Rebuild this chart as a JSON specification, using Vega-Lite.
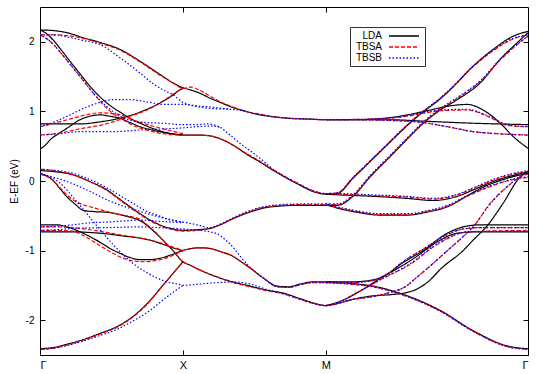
{
"$schema":"https://vega.github.io/schema/vega-lite/v6.json",
"width":488,"height":348,
"autosize":{"type":"none"},
"padding":{"left":40,"top":7,"right":17,"bottom":19},
"background":"white",
"config":{"view":{"stroke":"black","strokeWidth":1},"font":"Liberation Sans",
"axis":{"grid":false,"domain":false,"tickColor":"black","tickSize":5,"tickWidth":1,"offset":-5,"labelFont":"Liberation Sans","labelFontSize":10,"labelColor":"black","titleFont":"Liberation Sans","titleFontSize":10,"titleFontWeight":"normal","titleColor":"black"}},
"data":{"values":[
{"s":"LDA","b":"L1","x":0,"y":2.17},{"s":"LDA","b":"L1","x":0.1,"y":2.16},{"s":"LDA","b":"L1","x":0.19,"y":2.13},{"s":"LDA","b":"L1","x":0.3,"y":2.06},{"s":"LDA","b":"L1","x":0.42,"y":1.99},{"s":"LDA","b":"L1","x":0.56,"y":1.89},{"s":"LDA","b":"L1","x":0.7,"y":1.72},{"s":"LDA","b":"L1","x":0.84,"y":1.53},{"s":"LDA","b":"L1","x":0.93,"y":1.41},{"s":"LDA","b":"L1","x":1,"y":1.34},{"s":"LDA","b":"L1","x":1.05,"y":1.31},{"s":"LDA","b":"L1","x":1.12,"y":1.26},{"s":"LDA","b":"L1","x":1.19,"y":1.19},{"s":"LDA","b":"L1","x":1.26,"y":1.13},{"s":"LDA","b":"L1","x":1.33,"y":1.07},{"s":"LDA","b":"L1","x":1.44,"y":1.0},{"s":"LDA","b":"L1","x":1.54,"y":0.95},{"s":"LDA","b":"L1","x":1.65,"y":0.92},{"s":"LDA","b":"L1","x":1.75,"y":0.9},{"s":"LDA","b":"L1","x":1.88,"y":0.89},{"s":"LDA","b":"L1","x":2,"y":0.88},{"s":"LDA","b":"L1","x":2.2,"y":0.88},{"s":"LDA","b":"L1","x":2.45,"y":0.88},{"s":"LDA","b":"L1","x":2.68,"y":0.86},{"s":"LDA","b":"L1","x":3.03,"y":0.83},{"s":"LDA","b":"L1","x":3.414,"y":0.81},
{"s":"LDA","b":"L2","x":0,"y":0.82},{"s":"LDA","b":"L2","x":0.15,"y":0.82},{"s":"LDA","b":"L2","x":0.28,"y":0.82},{"s":"LDA","b":"L2","x":0.42,"y":0.85},{"s":"LDA","b":"L2","x":0.51,"y":0.88},{"s":"LDA","b":"L2","x":0.63,"y":0.94},{"s":"LDA","b":"L2","x":0.7,"y":0.99},{"s":"LDA","b":"L2","x":0.77,"y":1.05},{"s":"LDA","b":"L2","x":0.84,"y":1.12},{"s":"LDA","b":"L2","x":0.92,"y":1.22},{"s":"LDA","b":"L2","x":0.98,"y":1.31},{"s":"LDA","b":"L2","x":1,"y":1.33},
{"s":"LDA","b":"L3","x":0,"y":2.17},{"s":"LDA","b":"L3","x":0.05,"y":2.11},{"s":"LDA","b":"L3","x":0.09,"y":2.03},{"s":"LDA","b":"L3","x":0.15,"y":1.88},{"s":"LDA","b":"L3","x":0.21,"y":1.72},{"s":"LDA","b":"L3","x":0.28,"y":1.54},{"s":"LDA","b":"L3","x":0.35,"y":1.36},{"s":"LDA","b":"L3","x":0.44,"y":1.17},{"s":"LDA","b":"L3","x":0.5,"y":1.07},{"s":"LDA","b":"L3","x":0.56,"y":0.99},{"s":"LDA","b":"L3","x":0.63,"y":0.9},{"s":"LDA","b":"L3","x":0.7,"y":0.83},{"s":"LDA","b":"L3","x":0.77,"y":0.77},{"s":"LDA","b":"L3","x":0.84,"y":0.72},{"s":"LDA","b":"L3","x":0.92,"y":0.68},{"s":"LDA","b":"L3","x":1,"y":0.66},{"s":"LDA","b":"L3","x":1.12,"y":0.66},{"s":"LDA","b":"L3","x":1.21,"y":0.64},{"s":"LDA","b":"L3","x":1.27,"y":0.6},{"s":"LDA","b":"L3","x":1.33,"y":0.54},{"s":"LDA","b":"L3","x":1.45,"y":0.38},{"s":"LDA","b":"L3","x":1.55,"y":0.26},{"s":"LDA","b":"L3","x":1.61,"y":0.18},{"s":"LDA","b":"L3","x":1.7,"y":0.07},{"s":"LDA","b":"L3","x":1.8,"y":-0.04},{"s":"LDA","b":"L3","x":1.91,"y":-0.15},{"s":"LDA","b":"L3","x":2,"y":-0.19},{"s":"LDA","b":"L3","x":2.08,"y":-0.18},{"s":"LDA","b":"L3","x":2.19,"y":0.04},{"s":"LDA","b":"L3","x":2.31,"y":0.28},{"s":"LDA","b":"L3","x":2.43,"y":0.52},{"s":"LDA","b":"L3","x":2.54,"y":0.74},{"s":"LDA","b":"L3","x":2.66,"y":0.96},{"s":"LDA","b":"L3","x":2.8,"y":1.18},{"s":"LDA","b":"L3","x":2.87,"y":1.31},{"s":"LDA","b":"L3","x":3.03,"y":1.65},{"s":"LDA","b":"L3","x":3.17,"y":1.89},{"s":"LDA","b":"L3","x":3.31,"y":2.08},{"s":"LDA","b":"L3","x":3.414,"y":2.15},
{"s":"LDA","b":"L4","x":0,"y":0.46},{"s":"LDA","b":"L4","x":0.04,"y":0.52},{"s":"LDA","b":"L4","x":0.07,"y":0.59},{"s":"LDA","b":"L4","x":0.13,"y":0.68},{"s":"LDA","b":"L4","x":0.19,"y":0.76},{"s":"LDA","b":"L4","x":0.28,"y":0.88},{"s":"LDA","b":"L4","x":0.37,"y":0.94},{"s":"LDA","b":"L4","x":0.42,"y":0.95},{"s":"LDA","b":"L4","x":0.49,"y":0.93},{"s":"LDA","b":"L4","x":0.56,"y":0.9},{"s":"LDA","b":"L4","x":0.63,"y":0.84},{"s":"LDA","b":"L4","x":0.7,"y":0.78},{"s":"LDA","b":"L4","x":0.77,"y":0.74},{"s":"LDA","b":"L4","x":0.86,"y":0.7},{"s":"LDA","b":"L4","x":1,"y":0.66},
{"s":"LDA","b":"L5","x":2,"y":0.88},{"s":"LDA","b":"L5","x":2.2,"y":0.88},{"s":"LDA","b":"L5","x":2.33,"y":0.89},{"s":"LDA","b":"L5","x":2.45,"y":0.91},{"s":"LDA","b":"L5","x":2.57,"y":0.95},{"s":"LDA","b":"L5","x":2.73,"y":1.02},{"s":"LDA","b":"L5","x":2.87,"y":1.08},{"s":"LDA","b":"L5","x":2.99,"y":1.1},{"s":"LDA","b":"L5","x":3.1,"y":1.02},{"s":"LDA","b":"L5","x":3.22,"y":0.83},{"s":"LDA","b":"L5","x":3.31,"y":0.64},{"s":"LDA","b":"L5","x":3.414,"y":0.47},
{"s":"LDA","b":"L6","x":0,"y":0.15},{"s":"LDA","b":"L6","x":0.12,"y":0.13},{"s":"LDA","b":"L6","x":0.23,"y":0.09},{"s":"LDA","b":"L6","x":0.35,"y":-0.01},{"s":"LDA","b":"L6","x":0.47,"y":-0.13},{"s":"LDA","b":"L6","x":0.55,"y":-0.25},{"s":"LDA","b":"L6","x":0.63,"y":-0.37},{"s":"LDA","b":"L6","x":0.7,"y":-0.47},{"s":"LDA","b":"L6","x":0.77,"y":-0.56},{"s":"LDA","b":"L6","x":0.85,"y":-0.64},{"s":"LDA","b":"L6","x":0.93,"y":-0.69},{"s":"LDA","b":"L6","x":1,"y":-0.71},{"s":"LDA","b":"L6","x":1.1,"y":-0.7},{"s":"LDA","b":"L6","x":1.19,"y":-0.68},{"s":"LDA","b":"L6","x":1.26,"y":-0.63},{"s":"LDA","b":"L6","x":1.33,"y":-0.56},{"s":"LDA","b":"L6","x":1.45,"y":-0.46},{"s":"LDA","b":"L6","x":1.56,"y":-0.39},{"s":"LDA","b":"L6","x":1.68,"y":-0.36},{"s":"LDA","b":"L6","x":1.8,"y":-0.35},{"s":"LDA","b":"L6","x":2,"y":-0.35},{"s":"LDA","b":"L6","x":2.1,"y":-0.4},{"s":"LDA","b":"L6","x":2.22,"y":-0.45},{"s":"LDA","b":"L6","x":2.38,"y":-0.49},{"s":"LDA","b":"L6","x":2.57,"y":-0.49},{"s":"LDA","b":"L6","x":2.7,"y":-0.45},{"s":"LDA","b":"L6","x":2.85,"y":-0.37},{"s":"LDA","b":"L6","x":3,"y":-0.2},{"s":"LDA","b":"L6","x":3.08,"y":-0.11},{"s":"LDA","b":"L6","x":3.27,"y":0.04},{"s":"LDA","b":"L6","x":3.414,"y":0.11},
{"s":"LDA","b":"L7","x":2,"y":-0.35},{"s":"LDA","b":"L7","x":2.08,"y":-0.35},{"s":"LDA","b":"L7","x":2.19,"y":-0.22},{"s":"LDA","b":"L7","x":2.31,"y":0.06},{"s":"LDA","b":"L7","x":2.45,"y":0.35},{"s":"LDA","b":"L7","x":2.54,"y":0.54},{"s":"LDA","b":"L7","x":2.71,"y":0.88},{"s":"LDA","b":"L7","x":2.8,"y":1.02},{"s":"LDA","b":"L7","x":2.92,"y":1.17},{"s":"LDA","b":"L7","x":3.08,"y":1.41},{"s":"LDA","b":"L7","x":3.22,"y":1.75},{"s":"LDA","b":"L7","x":3.34,"y":1.99},{"s":"LDA","b":"L7","x":3.414,"y":2.13},
{"s":"LDA","b":"L8","x":2,"y":-0.19},{"s":"LDA","b":"L8","x":2.1,"y":-0.2},{"s":"LDA","b":"L8","x":2.33,"y":-0.22},{"s":"LDA","b":"L8","x":2.57,"y":-0.25},{"s":"LDA","b":"L8","x":2.75,"y":-0.28},{"s":"LDA","b":"L8","x":2.92,"y":-0.22},{"s":"LDA","b":"L8","x":3.04,"y":-0.12},{"s":"LDA","b":"L8","x":3.18,"y":0},{"s":"LDA","b":"L8","x":3.29,"y":0.07},{"s":"LDA","b":"L8","x":3.414,"y":0.13},
{"s":"LDA","b":"L9","x":0,"y":0.11},{"s":"LDA","b":"L9","x":0.05,"y":0.07},{"s":"LDA","b":"L9","x":0.09,"y":0.01},{"s":"LDA","b":"L9","x":0.14,"y":-0.11},{"s":"LDA","b":"L9","x":0.19,"y":-0.23},{"s":"LDA","b":"L9","x":0.25,"y":-0.34},{"s":"LDA","b":"L9","x":0.3,"y":-0.42},{"s":"LDA","b":"L9","x":0.38,"y":-0.44},{"s":"LDA","b":"L9","x":0.47,"y":-0.45},{"s":"LDA","b":"L9","x":0.55,"y":-0.48},{"s":"LDA","b":"L9","x":0.63,"y":-0.52},{"s":"LDA","b":"L9","x":0.7,"y":-0.57},{"s":"LDA","b":"L9","x":0.75,"y":-0.64},{"s":"LDA","b":"L9","x":0.8,"y":-0.73},{"s":"LDA","b":"L9","x":0.86,"y":-0.85},{"s":"LDA","b":"L9","x":0.93,"y":-1.0},{"s":"LDA","b":"L9","x":1,"y":-1.16},{"s":"LDA","b":"L9","x":1.05,"y":-1.21},{"s":"LDA","b":"L9","x":1.12,"y":-1.28},{"s":"LDA","b":"L9","x":1.24,"y":-1.38},{"s":"LDA","b":"L9","x":1.35,"y":-1.45},{"s":"LDA","b":"L9","x":1.47,"y":-1.51},{"s":"LDA","b":"L9","x":1.59,"y":-1.57},{"s":"LDA","b":"L9","x":1.7,"y":-1.61},{"s":"LDA","b":"L9","x":1.82,"y":-1.69},{"s":"LDA","b":"L9","x":1.91,"y":-1.75},{"s":"LDA","b":"L9","x":2,"y":-1.79},{"s":"LDA","b":"L9","x":2.1,"y":-1.75},{"s":"LDA","b":"L9","x":2.17,"y":-1.71},{"s":"LDA","b":"L9","x":2.33,"y":-1.65},{"s":"LDA","b":"L9","x":2.47,"y":-1.63},{"s":"LDA","b":"L9","x":2.57,"y":-1.6},{"s":"LDA","b":"L9","x":2.64,"y":-1.55},{"s":"LDA","b":"L9","x":2.73,"y":-1.42},{"s":"LDA","b":"L9","x":2.8,"y":-1.27},{"s":"LDA","b":"L9","x":2.96,"y":-1.0},{"s":"LDA","b":"L9","x":3.03,"y":-0.85},{"s":"LDA","b":"L9","x":3.13,"y":-0.64},{"s":"LDA","b":"L9","x":3.24,"y":-0.32},{"s":"LDA","b":"L9","x":3.36,"y":0.06},{"s":"LDA","b":"L9","x":3.414,"y":0.14},
{"s":"LDA","b":"L10","x":0,"y":-0.63},{"s":"LDA","b":"L10","x":0.12,"y":-0.63},{"s":"LDA","b":"L10","x":0.19,"y":-0.66},{"s":"LDA","b":"L10","x":0.28,"y":-0.73},{"s":"LDA","b":"L10","x":0.35,"y":-0.8},{"s":"LDA","b":"L10","x":0.42,"y":-0.88},{"s":"LDA","b":"L10","x":0.5,"y":-0.98},{"s":"LDA","b":"L10","x":0.56,"y":-1.04},{"s":"LDA","b":"L10","x":0.63,"y":-1.1},{"s":"LDA","b":"L10","x":0.7,"y":-1.13},{"s":"LDA","b":"L10","x":0.77,"y":-1.13},{"s":"LDA","b":"L10","x":0.84,"y":-1.11},{"s":"LDA","b":"L10","x":0.92,"y":-1.06},{"s":"LDA","b":"L10","x":1,"y":-1.0},{"s":"LDA","b":"L10","x":1.06,"y":-0.97},{"s":"LDA","b":"L10","x":1.12,"y":-0.96},{"s":"LDA","b":"L10","x":1.19,"y":-0.97},{"s":"LDA","b":"L10","x":1.27,"y":-1.02},{"s":"LDA","b":"L10","x":1.34,"y":-1.07},{"s":"LDA","b":"L10","x":1.4,"y":-1.15},{"s":"LDA","b":"L10","x":1.47,"y":-1.25},{"s":"LDA","b":"L10","x":1.56,"y":-1.39},{"s":"LDA","b":"L10","x":1.66,"y":-1.51},{"s":"LDA","b":"L10","x":1.74,"y":-1.52},{"s":"LDA","b":"L10","x":1.82,"y":-1.48},{"s":"LDA","b":"L10","x":1.91,"y":-1.45},{"s":"LDA","b":"L10","x":2,"y":-1.45},{"s":"LDA","b":"L10","x":2.17,"y":-1.45},{"s":"LDA","b":"L10","x":2.33,"y":-1.42},{"s":"LDA","b":"L10","x":2.45,"y":-1.31},{"s":"LDA","b":"L10","x":2.52,"y":-1.2},{"s":"LDA","b":"L10","x":2.68,"y":-1.0},{"s":"LDA","b":"L10","x":2.85,"y":-0.75},{"s":"LDA","b":"L10","x":2.96,"y":-0.66},{"s":"LDA","b":"L10","x":3.08,"y":-0.63},{"s":"LDA","b":"L10","x":3.414,"y":-0.63},
{"s":"LDA","b":"L11","x":0,"y":-0.73},{"s":"LDA","b":"L11","x":0.12,"y":-0.73},{"s":"LDA","b":"L11","x":0.23,"y":-0.73},{"s":"LDA","b":"L11","x":0.35,"y":-0.74},{"s":"LDA","b":"L11","x":0.47,"y":-0.76},{"s":"LDA","b":"L11","x":0.58,"y":-0.79},{"s":"LDA","b":"L11","x":0.7,"y":-0.82},{"s":"LDA","b":"L11","x":0.77,"y":-0.85},{"s":"LDA","b":"L11","x":0.86,"y":-0.91},{"s":"LDA","b":"L11","x":0.93,"y":-0.96},{"s":"LDA","b":"L11","x":1,"y":-1.0},
{"s":"LDA","b":"L12","x":2,"y":-1.79},{"s":"LDA","b":"L12","x":2.1,"y":-1.73},{"s":"LDA","b":"L12","x":2.24,"y":-1.58},{"s":"LDA","b":"L12","x":2.38,"y":-1.4},{"s":"LDA","b":"L12","x":2.61,"y":-1.12},{"s":"LDA","b":"L12","x":2.8,"y":-0.85},{"s":"LDA","b":"L12","x":2.92,"y":-0.75},{"s":"LDA","b":"L12","x":3.08,"y":-0.73},{"s":"LDA","b":"L12","x":3.414,"y":-0.73},
{"s":"LDA","b":"L13","x":0,"y":-2.41},{"s":"LDA","b":"L13","x":0.1,"y":-2.39},{"s":"LDA","b":"L13","x":0.2,"y":-2.34},{"s":"LDA","b":"L13","x":0.3,"y":-2.28},{"s":"LDA","b":"L13","x":0.42,"y":-2.19},{"s":"LDA","b":"L13","x":0.54,"y":-2.09},{"s":"LDA","b":"L13","x":0.66,"y":-1.93},{"s":"LDA","b":"L13","x":0.75,"y":-1.76},{"s":"LDA","b":"L13","x":0.86,"y":-1.5},{"s":"LDA","b":"L13","x":0.93,"y":-1.33},{"s":"LDA","b":"L13","x":1,"y":-1.16},
{"s":"LDA","b":"L14","x":2,"y":-1.45},{"s":"LDA","b":"L14","x":2.1,"y":-1.46},{"s":"LDA","b":"L14","x":2.22,"y":-1.48},{"s":"LDA","b":"L14","x":2.33,"y":-1.51},{"s":"LDA","b":"L14","x":2.45,"y":-1.57},{"s":"LDA","b":"L14","x":2.57,"y":-1.65},{"s":"LDA","b":"L14","x":2.8,"y":-1.86},{"s":"LDA","b":"L14","x":3.03,"y":-2.15},{"s":"LDA","b":"L14","x":3.27,"y":-2.37},{"s":"LDA","b":"L14","x":3.414,"y":-2.41},
{"s":"TBSA","b":"A1","x":0,"y":2.1},{"s":"TBSA","b":"A1","x":0.1,"y":2.1},{"s":"TBSA","b":"A1","x":0.19,"y":2.09},{"s":"TBSA","b":"A1","x":0.3,"y":2.05},{"s":"TBSA","b":"A1","x":0.42,"y":1.98},{"s":"TBSA","b":"A1","x":0.56,"y":1.88},{"s":"TBSA","b":"A1","x":0.7,"y":1.71},{"s":"TBSA","b":"A1","x":0.84,"y":1.52},{"s":"TBSA","b":"A1","x":0.93,"y":1.41},{"s":"TBSA","b":"A1","x":1,"y":1.33},{"s":"TBSA","b":"A1","x":1.05,"y":1.35},{"s":"TBSA","b":"A1","x":1.12,"y":1.3},{"s":"TBSA","b":"A1","x":1.19,"y":1.22},{"s":"TBSA","b":"A1","x":1.26,"y":1.14},{"s":"TBSA","b":"A1","x":1.33,"y":1.08},{"s":"TBSA","b":"A1","x":1.44,"y":1.0},{"s":"TBSA","b":"A1","x":1.54,"y":0.96},{"s":"TBSA","b":"A1","x":1.65,"y":0.92},{"s":"TBSA","b":"A1","x":1.75,"y":0.9},{"s":"TBSA","b":"A1","x":1.88,"y":0.89},{"s":"TBSA","b":"A1","x":2,"y":0.88},{"s":"TBSA","b":"A1","x":2.2,"y":0.88},{"s":"TBSA","b":"A1","x":2.45,"y":0.87},{"s":"TBSA","b":"A1","x":2.68,"y":0.84},{"s":"TBSA","b":"A1","x":2.85,"y":0.78},{"s":"TBSA","b":"A1","x":3.03,"y":0.71},{"s":"TBSA","b":"A1","x":3.2,"y":0.68},{"s":"TBSA","b":"A1","x":3.414,"y":0.66},
{"s":"TBSA","b":"A2","x":0,"y":0.66},{"s":"TBSA","b":"A2","x":0.14,"y":0.69},{"s":"TBSA","b":"A2","x":0.28,"y":0.75},{"s":"TBSA","b":"A2","x":0.42,"y":0.8},{"s":"TBSA","b":"A2","x":0.51,"y":0.85},{"s":"TBSA","b":"A2","x":0.63,"y":0.93},{"s":"TBSA","b":"A2","x":0.75,"y":1.02},{"s":"TBSA","b":"A2","x":0.86,"y":1.15},{"s":"TBSA","b":"A2","x":0.98,"y":1.31},{"s":"TBSA","b":"A2","x":1,"y":1.33},
{"s":"TBSA","b":"A3","x":0,"y":2.1},{"s":"TBSA","b":"A3","x":0.05,"y":2.04},{"s":"TBSA","b":"A3","x":0.09,"y":1.97},{"s":"TBSA","b":"A3","x":0.15,"y":1.83},{"s":"TBSA","b":"A3","x":0.21,"y":1.68},{"s":"TBSA","b":"A3","x":0.3,"y":1.45},{"s":"TBSA","b":"A3","x":0.37,"y":1.27},{"s":"TBSA","b":"A3","x":0.44,"y":1.1},{"s":"TBSA","b":"A3","x":0.51,"y":0.97},{"s":"TBSA","b":"A3","x":0.58,"y":0.88},{"s":"TBSA","b":"A3","x":0.65,"y":0.8},{"s":"TBSA","b":"A3","x":0.75,"y":0.73},{"s":"TBSA","b":"A3","x":0.86,"y":0.68},{"s":"TBSA","b":"A3","x":1,"y":0.66},{"s":"TBSA","b":"A3","x":1.12,"y":0.66},{"s":"TBSA","b":"A3","x":1.21,"y":0.64},{"s":"TBSA","b":"A3","x":1.27,"y":0.6},{"s":"TBSA","b":"A3","x":1.33,"y":0.54},{"s":"TBSA","b":"A3","x":1.45,"y":0.39},{"s":"TBSA","b":"A3","x":1.55,"y":0.27},{"s":"TBSA","b":"A3","x":1.61,"y":0.19},{"s":"TBSA","b":"A3","x":1.7,"y":0.08},{"s":"TBSA","b":"A3","x":1.8,"y":-0.03},{"s":"TBSA","b":"A3","x":1.91,"y":-0.14},{"s":"TBSA","b":"A3","x":2,"y":-0.18},{"s":"TBSA","b":"A3","x":2.08,"y":-0.17},{"s":"TBSA","b":"A3","x":2.19,"y":0.05},{"s":"TBSA","b":"A3","x":2.31,"y":0.29},{"s":"TBSA","b":"A3","x":2.43,"y":0.53},{"s":"TBSA","b":"A3","x":2.54,"y":0.75},{"s":"TBSA","b":"A3","x":2.66,"y":0.97},{"s":"TBSA","b":"A3","x":2.8,"y":1.19},{"s":"TBSA","b":"A3","x":2.87,"y":1.32},{"s":"TBSA","b":"A3","x":3.03,"y":1.64},{"s":"TBSA","b":"A3","x":3.17,"y":1.87},{"s":"TBSA","b":"A3","x":3.31,"y":2.04},{"s":"TBSA","b":"A3","x":3.414,"y":2.1},
{"s":"TBSA","b":"A4","x":0,"y":0.78},{"s":"TBSA","b":"A4","x":0.1,"y":0.83},{"s":"TBSA","b":"A4","x":0.19,"y":0.88},{"s":"TBSA","b":"A4","x":0.28,"y":0.93},{"s":"TBSA","b":"A4","x":0.42,"y":0.98},{"s":"TBSA","b":"A4","x":0.56,"y":0.95},{"s":"TBSA","b":"A4","x":0.66,"y":0.87},{"s":"TBSA","b":"A4","x":0.77,"y":0.8},{"s":"TBSA","b":"A4","x":0.88,"y":0.74},{"s":"TBSA","b":"A4","x":1,"y":0.68},
{"s":"TBSA","b":"A5","x":2,"y":0.88},{"s":"TBSA","b":"A5","x":2.33,"y":0.89},{"s":"TBSA","b":"A5","x":2.57,"y":0.93},{"s":"TBSA","b":"A5","x":2.7,"y":0.98},{"s":"TBSA","b":"A5","x":2.8,"y":1.01},{"s":"TBSA","b":"A5","x":2.99,"y":1.02},{"s":"TBSA","b":"A5","x":3.13,"y":0.93},{"s":"TBSA","b":"A5","x":3.27,"y":0.8},{"s":"TBSA","b":"A5","x":3.414,"y":0.78},
{"s":"TBSA","b":"A6","x":0,"y":0.17},{"s":"TBSA","b":"A6","x":0.12,"y":0.14},{"s":"TBSA","b":"A6","x":0.23,"y":0.09},{"s":"TBSA","b":"A6","x":0.35,"y":-0.01},{"s":"TBSA","b":"A6","x":0.47,"y":-0.14},{"s":"TBSA","b":"A6","x":0.55,"y":-0.26},{"s":"TBSA","b":"A6","x":0.63,"y":-0.38},{"s":"TBSA","b":"A6","x":0.7,"y":-0.48},{"s":"TBSA","b":"A6","x":0.77,"y":-0.57},{"s":"TBSA","b":"A6","x":0.85,"y":-0.65},{"s":"TBSA","b":"A6","x":0.93,"y":-0.7},{"s":"TBSA","b":"A6","x":1,"y":-0.72},{"s":"TBSA","b":"A6","x":1.1,"y":-0.71},{"s":"TBSA","b":"A6","x":1.19,"y":-0.68},{"s":"TBSA","b":"A6","x":1.26,"y":-0.63},{"s":"TBSA","b":"A6","x":1.33,"y":-0.56},{"s":"TBSA","b":"A6","x":1.45,"y":-0.45},{"s":"TBSA","b":"A6","x":1.56,"y":-0.38},{"s":"TBSA","b":"A6","x":1.68,"y":-0.35},{"s":"TBSA","b":"A6","x":1.8,"y":-0.34},{"s":"TBSA","b":"A6","x":2,"y":-0.34},{"s":"TBSA","b":"A6","x":2.1,"y":-0.39},{"s":"TBSA","b":"A6","x":2.22,"y":-0.44},{"s":"TBSA","b":"A6","x":2.38,"y":-0.48},{"s":"TBSA","b":"A6","x":2.57,"y":-0.48},{"s":"TBSA","b":"A6","x":2.7,"y":-0.44},{"s":"TBSA","b":"A6","x":2.85,"y":-0.36},{"s":"TBSA","b":"A6","x":3,"y":-0.21},{"s":"TBSA","b":"A6","x":3.1,"y":-0.12},{"s":"TBSA","b":"A6","x":3.27,"y":0},{"s":"TBSA","b":"A6","x":3.414,"y":0.05},
{"s":"TBSA","b":"A7","x":2,"y":-0.34},{"s":"TBSA","b":"A7","x":2.08,"y":-0.34},{"s":"TBSA","b":"A7","x":2.19,"y":-0.21},{"s":"TBSA","b":"A7","x":2.31,"y":0.07},{"s":"TBSA","b":"A7","x":2.45,"y":0.36},{"s":"TBSA","b":"A7","x":2.54,"y":0.55},{"s":"TBSA","b":"A7","x":2.71,"y":0.89},{"s":"TBSA","b":"A7","x":2.8,"y":1.03},{"s":"TBSA","b":"A7","x":2.92,"y":1.19},{"s":"TBSA","b":"A7","x":3.08,"y":1.43},{"s":"TBSA","b":"A7","x":3.22,"y":1.74},{"s":"TBSA","b":"A7","x":3.34,"y":1.96},{"s":"TBSA","b":"A7","x":3.414,"y":2.08},
{"s":"TBSA","b":"A8","x":2,"y":-0.18},{"s":"TBSA","b":"A8","x":2.1,"y":-0.19},{"s":"TBSA","b":"A8","x":2.33,"y":-0.21},{"s":"TBSA","b":"A8","x":2.57,"y":-0.23},{"s":"TBSA","b":"A8","x":2.75,"y":-0.26},{"s":"TBSA","b":"A8","x":2.92,"y":-0.2},{"s":"TBSA","b":"A8","x":3.04,"y":-0.1},{"s":"TBSA","b":"A8","x":3.18,"y":0.02},{"s":"TBSA","b":"A8","x":3.29,"y":0.09},{"s":"TBSA","b":"A8","x":3.414,"y":0.14},
{"s":"TBSA","b":"A9","x":0,"y":0.1},{"s":"TBSA","b":"A9","x":0.09,"y":0.01},{"s":"TBSA","b":"A9","x":0.16,"y":-0.14},{"s":"TBSA","b":"A9","x":0.23,"y":-0.27},{"s":"TBSA","b":"A9","x":0.3,"y":-0.34},{"s":"TBSA","b":"A9","x":0.35,"y":-0.37},{"s":"TBSA","b":"A9","x":0.47,"y":-0.44},{"s":"TBSA","b":"A9","x":0.58,"y":-0.49},{"s":"TBSA","b":"A9","x":0.7,"y":-0.55},{"s":"TBSA","b":"A9","x":0.75,"y":-0.63},{"s":"TBSA","b":"A9","x":0.8,"y":-0.72},{"s":"TBSA","b":"A9","x":0.86,"y":-0.85},{"s":"TBSA","b":"A9","x":0.93,"y":-1.0},{"s":"TBSA","b":"A9","x":1,"y":-1.16},{"s":"TBSA","b":"A9","x":1.05,"y":-1.21},{"s":"TBSA","b":"A9","x":1.12,"y":-1.28},{"s":"TBSA","b":"A9","x":1.24,"y":-1.38},{"s":"TBSA","b":"A9","x":1.35,"y":-1.46},{"s":"TBSA","b":"A9","x":1.47,"y":-1.52},{"s":"TBSA","b":"A9","x":1.59,"y":-1.58},{"s":"TBSA","b":"A9","x":1.7,"y":-1.62},{"s":"TBSA","b":"A9","x":1.82,"y":-1.7},{"s":"TBSA","b":"A9","x":1.91,"y":-1.76},{"s":"TBSA","b":"A9","x":2,"y":-1.79},{"s":"TBSA","b":"A9","x":2.1,"y":-1.75},{"s":"TBSA","b":"A9","x":2.17,"y":-1.71},{"s":"TBSA","b":"A9","x":2.33,"y":-1.66},{"s":"TBSA","b":"A9","x":2.45,"y":-1.6},{"s":"TBSA","b":"A9","x":2.57,"y":-1.5},{"s":"TBSA","b":"A9","x":2.61,"y":-1.43},{"s":"TBSA","b":"A9","x":2.73,"y":-1.22},{"s":"TBSA","b":"A9","x":2.85,"y":-1.0},{"s":"TBSA","b":"A9","x":2.96,"y":-0.8},{"s":"TBSA","b":"A9","x":3.03,"y":-0.66},{"s":"TBSA","b":"A9","x":3.15,"y":-0.32},{"s":"TBSA","b":"A9","x":3.27,"y":-0.08},{"s":"TBSA","b":"A9","x":3.36,"y":0.06},{"s":"TBSA","b":"A9","x":3.414,"y":0.1},
{"s":"TBSA","b":"A10","x":0,"y":-0.71},{"s":"TBSA","b":"A10","x":0.12,"y":-0.71},{"s":"TBSA","b":"A10","x":0.23,"y":-0.72},{"s":"TBSA","b":"A10","x":0.3,"y":-0.78},{"s":"TBSA","b":"A10","x":0.42,"y":-0.93},{"s":"TBSA","b":"A10","x":0.52,"y":-1.05},{"s":"TBSA","b":"A10","x":0.63,"y":-1.14},{"s":"TBSA","b":"A10","x":0.72,"y":-1.16},{"s":"TBSA","b":"A10","x":0.84,"y":-1.13},{"s":"TBSA","b":"A10","x":0.93,"y":-1.07},{"s":"TBSA","b":"A10","x":1,"y":-1.0},{"s":"TBSA","b":"A10","x":1.06,"y":-0.97},{"s":"TBSA","b":"A10","x":1.12,"y":-0.96},{"s":"TBSA","b":"A10","x":1.19,"y":-0.97},{"s":"TBSA","b":"A10","x":1.27,"y":-1.02},{"s":"TBSA","b":"A10","x":1.34,"y":-1.07},{"s":"TBSA","b":"A10","x":1.4,"y":-1.15},{"s":"TBSA","b":"A10","x":1.47,"y":-1.25},{"s":"TBSA","b":"A10","x":1.56,"y":-1.39},{"s":"TBSA","b":"A10","x":1.66,"y":-1.52},{"s":"TBSA","b":"A10","x":1.74,"y":-1.53},{"s":"TBSA","b":"A10","x":1.82,"y":-1.49},{"s":"TBSA","b":"A10","x":1.91,"y":-1.46},{"s":"TBSA","b":"A10","x":2,"y":-1.46},{"s":"TBSA","b":"A10","x":2.17,"y":-1.46},{"s":"TBSA","b":"A10","x":2.33,"y":-1.43},{"s":"TBSA","b":"A10","x":2.45,"y":-1.31},{"s":"TBSA","b":"A10","x":2.52,"y":-1.19},{"s":"TBSA","b":"A10","x":2.68,"y":-0.98},{"s":"TBSA","b":"A10","x":2.85,"y":-0.77},{"s":"TBSA","b":"A10","x":2.96,"y":-0.69},{"s":"TBSA","b":"A10","x":3.08,"y":-0.67},{"s":"TBSA","b":"A10","x":3.414,"y":-0.67},
{"s":"TBSA","b":"A11","x":0,"y":-0.66},{"s":"TBSA","b":"A11","x":0.12,"y":-0.66},{"s":"TBSA","b":"A11","x":0.23,"y":-0.67},{"s":"TBSA","b":"A11","x":0.35,"y":-0.7},{"s":"TBSA","b":"A11","x":0.47,"y":-0.74},{"s":"TBSA","b":"A11","x":0.58,"y":-0.78},{"s":"TBSA","b":"A11","x":0.7,"y":-0.82},{"s":"TBSA","b":"A11","x":0.77,"y":-0.85},{"s":"TBSA","b":"A11","x":0.86,"y":-0.9},{"s":"TBSA","b":"A11","x":0.93,"y":-0.95},{"s":"TBSA","b":"A11","x":1,"y":-1.0},
{"s":"TBSA","b":"A12","x":2,"y":-1.79},{"s":"TBSA","b":"A12","x":2.1,"y":-1.73},{"s":"TBSA","b":"A12","x":2.24,"y":-1.58},{"s":"TBSA","b":"A12","x":2.38,"y":-1.42},{"s":"TBSA","b":"A12","x":2.61,"y":-1.17},{"s":"TBSA","b":"A12","x":2.75,"y":-0.95},{"s":"TBSA","b":"A12","x":2.85,"y":-0.83},{"s":"TBSA","b":"A12","x":2.99,"y":-0.73},{"s":"TBSA","b":"A12","x":3.414,"y":-0.71},
{"s":"TBSA","b":"A13","x":0,"y":-2.42},{"s":"TBSA","b":"A13","x":0.1,"y":-2.4},{"s":"TBSA","b":"A13","x":0.2,"y":-2.35},{"s":"TBSA","b":"A13","x":0.3,"y":-2.29},{"s":"TBSA","b":"A13","x":0.42,"y":-2.2},{"s":"TBSA","b":"A13","x":0.54,"y":-2.1},{"s":"TBSA","b":"A13","x":0.66,"y":-1.94},{"s":"TBSA","b":"A13","x":0.75,"y":-1.77},{"s":"TBSA","b":"A13","x":0.86,"y":-1.5},{"s":"TBSA","b":"A13","x":0.93,"y":-1.33},{"s":"TBSA","b":"A13","x":1,"y":-1.16},
{"s":"TBSA","b":"A14","x":2,"y":-1.46},{"s":"TBSA","b":"A14","x":2.1,"y":-1.47},{"s":"TBSA","b":"A14","x":2.22,"y":-1.49},{"s":"TBSA","b":"A14","x":2.33,"y":-1.52},{"s":"TBSA","b":"A14","x":2.45,"y":-1.58},{"s":"TBSA","b":"A14","x":2.57,"y":-1.66},{"s":"TBSA","b":"A14","x":2.8,"y":-1.87},{"s":"TBSA","b":"A14","x":3.03,"y":-2.16},{"s":"TBSA","b":"A14","x":3.27,"y":-2.38},{"s":"TBSA","b":"A14","x":3.414,"y":-2.42},
{"s":"TBSB","b":"B1","x":0,"y":2.1},{"s":"TBSB","b":"B1","x":0.1,"y":2.1},{"s":"TBSB","b":"B1","x":0.19,"y":2.07},{"s":"TBSB","b":"B1","x":0.3,"y":2.02},{"s":"TBSB","b":"B1","x":0.42,"y":1.96},{"s":"TBSB","b":"B1","x":0.56,"y":1.77},{"s":"TBSB","b":"B1","x":0.7,"y":1.55},{"s":"TBSB","b":"B1","x":0.79,"y":1.4},{"s":"TBSB","b":"B1","x":0.86,"y":1.31},{"s":"TBSB","b":"B1","x":0.93,"y":1.24},{"s":"TBSB","b":"B1","x":1,"y":1.13},{"s":"TBSB","b":"B1","x":1.1,"y":1.07},{"s":"TBSB","b":"B1","x":1.21,"y":1.04},{"s":"TBSB","b":"B1","x":1.33,"y":1.03},{"s":"TBSB","b":"B1","x":1.42,"y":1.01},{"s":"TBSB","b":"B1","x":1.5,"y":0.97},{"s":"TBSB","b":"B1","x":1.6,"y":0.93},{"s":"TBSB","b":"B1","x":1.75,"y":0.9},{"s":"TBSB","b":"B1","x":1.88,"y":0.89},{"s":"TBSB","b":"B1","x":2,"y":0.88},{"s":"TBSB","b":"B1","x":2.2,"y":0.88},{"s":"TBSB","b":"B1","x":2.45,"y":0.87},{"s":"TBSB","b":"B1","x":2.68,"y":0.84},{"s":"TBSB","b":"B1","x":2.85,"y":0.78},{"s":"TBSB","b":"B1","x":3.03,"y":0.71},{"s":"TBSB","b":"B1","x":3.2,"y":0.68},{"s":"TBSB","b":"B1","x":3.414,"y":0.66},
{"s":"TBSB","b":"B2","x":0,"y":2.1},{"s":"TBSB","b":"B2","x":0.05,"y":2.04},{"s":"TBSB","b":"B2","x":0.09,"y":1.97},{"s":"TBSB","b":"B2","x":0.15,"y":1.83},{"s":"TBSB","b":"B2","x":0.21,"y":1.68},{"s":"TBSB","b":"B2","x":0.3,"y":1.45},{"s":"TBSB","b":"B2","x":0.37,"y":1.27},{"s":"TBSB","b":"B2","x":0.44,"y":1.12},{"s":"TBSB","b":"B2","x":0.51,"y":1.0},{"s":"TBSB","b":"B2","x":0.58,"y":0.91},{"s":"TBSB","b":"B2","x":0.66,"y":0.86},{"s":"TBSB","b":"B2","x":0.75,"y":0.84},{"s":"TBSB","b":"B2","x":0.86,"y":0.83},{"s":"TBSB","b":"B2","x":1,"y":0.81},{"s":"TBSB","b":"B2","x":1.1,"y":0.81},{"s":"TBSB","b":"B2","x":1.17,"y":0.82},{"s":"TBSB","b":"B2","x":1.26,"y":0.77},{"s":"TBSB","b":"B2","x":1.33,"y":0.66},{"s":"TBSB","b":"B2","x":1.4,"y":0.54},{"s":"TBSB","b":"B2","x":1.48,"y":0.42},{"s":"TBSB","b":"B2","x":1.56,"y":0.29},{"s":"TBSB","b":"B2","x":1.61,"y":0.2},{"s":"TBSB","b":"B2","x":1.7,"y":0.08},{"s":"TBSB","b":"B2","x":1.8,"y":-0.03},{"s":"TBSB","b":"B2","x":1.91,"y":-0.14},{"s":"TBSB","b":"B2","x":2,"y":-0.18},{"s":"TBSB","b":"B2","x":2.08,"y":-0.17},{"s":"TBSB","b":"B2","x":2.19,"y":0.05},{"s":"TBSB","b":"B2","x":2.31,"y":0.29},{"s":"TBSB","b":"B2","x":2.43,"y":0.53},{"s":"TBSB","b":"B2","x":2.54,"y":0.75},{"s":"TBSB","b":"B2","x":2.66,"y":0.97},{"s":"TBSB","b":"B2","x":2.8,"y":1.19},{"s":"TBSB","b":"B2","x":2.87,"y":1.32},{"s":"TBSB","b":"B2","x":3.03,"y":1.65},{"s":"TBSB","b":"B2","x":3.17,"y":1.88},{"s":"TBSB","b":"B2","x":3.31,"y":2.05},{"s":"TBSB","b":"B2","x":3.414,"y":2.1},
{"s":"TBSB","b":"B3","x":0,"y":0.78},{"s":"TBSB","b":"B3","x":0.1,"y":0.85},{"s":"TBSB","b":"B3","x":0.19,"y":0.93},{"s":"TBSB","b":"B3","x":0.28,"y":1.02},{"s":"TBSB","b":"B3","x":0.42,"y":1.13},{"s":"TBSB","b":"B3","x":0.51,"y":1.17},{"s":"TBSB","b":"B3","x":0.63,"y":1.17},{"s":"TBSB","b":"B3","x":0.74,"y":1.14},{"s":"TBSB","b":"B3","x":0.86,"y":1.1},{"s":"TBSB","b":"B3","x":1,"y":1.1},{"s":"TBSB","b":"B3","x":1.1,"y":1.08},{"s":"TBSB","b":"B3","x":1.21,"y":1.06},{"s":"TBSB","b":"B3","x":1.33,"y":1.03},
{"s":"TBSB","b":"B4","x":0,"y":0.66},{"s":"TBSB","b":"B4","x":0.14,"y":0.68},{"s":"TBSB","b":"B4","x":0.28,"y":0.71},{"s":"TBSB","b":"B4","x":0.51,"y":0.71},{"s":"TBSB","b":"B4","x":0.75,"y":0.74},{"s":"TBSB","b":"B4","x":0.98,"y":0.76},{"s":"TBSB","b":"B4","x":1.1,"y":0.78},{"s":"TBSB","b":"B4","x":1.2,"y":0.79},{"s":"TBSB","b":"B4","x":1.26,"y":0.77},
{"s":"TBSB","b":"B5","x":2,"y":0.88},{"s":"TBSB","b":"B5","x":2.33,"y":0.89},{"s":"TBSB","b":"B5","x":2.57,"y":0.94},{"s":"TBSB","b":"B5","x":2.7,"y":0.99},{"s":"TBSB","b":"B5","x":2.8,"y":1.02},{"s":"TBSB","b":"B5","x":2.99,"y":1.03},{"s":"TBSB","b":"B5","x":3.13,"y":0.94},{"s":"TBSB","b":"B5","x":3.27,"y":0.81},{"s":"TBSB","b":"B5","x":3.414,"y":0.78},
{"s":"TBSB","b":"B6","x":0,"y":0.17},{"s":"TBSB","b":"B6","x":0.12,"y":0.15},{"s":"TBSB","b":"B6","x":0.23,"y":0.11},{"s":"TBSB","b":"B6","x":0.35,"y":0.02},{"s":"TBSB","b":"B6","x":0.47,"y":-0.1},{"s":"TBSB","b":"B6","x":0.56,"y":-0.21},{"s":"TBSB","b":"B6","x":0.65,"y":-0.32},{"s":"TBSB","b":"B6","x":0.74,"y":-0.43},{"s":"TBSB","b":"B6","x":0.82,"y":-0.49},{"s":"TBSB","b":"B6","x":0.91,"y":-0.56},{"s":"TBSB","b":"B6","x":1,"y":-0.59},{"s":"TBSB","b":"B6","x":1.1,"y":-0.63},{"s":"TBSB","b":"B6","x":1.19,"y":-0.67},{"s":"TBSB","b":"B6","x":1.26,"y":-0.62},{"s":"TBSB","b":"B6","x":1.33,"y":-0.55},{"s":"TBSB","b":"B6","x":1.45,"y":-0.44},{"s":"TBSB","b":"B6","x":1.56,"y":-0.37},{"s":"TBSB","b":"B6","x":1.68,"y":-0.34},{"s":"TBSB","b":"B6","x":1.8,"y":-0.33},{"s":"TBSB","b":"B6","x":2,"y":-0.33},{"s":"TBSB","b":"B6","x":2.1,"y":-0.38},{"s":"TBSB","b":"B6","x":2.22,"y":-0.43},{"s":"TBSB","b":"B6","x":2.38,"y":-0.47},{"s":"TBSB","b":"B6","x":2.57,"y":-0.47},{"s":"TBSB","b":"B6","x":2.7,"y":-0.43},{"s":"TBSB","b":"B6","x":2.85,"y":-0.35},{"s":"TBSB","b":"B6","x":3,"y":-0.2},{"s":"TBSB","b":"B6","x":3.1,"y":-0.11},{"s":"TBSB","b":"B6","x":3.27,"y":0.01},{"s":"TBSB","b":"B6","x":3.414,"y":0.06},
{"s":"TBSB","b":"B7","x":2,"y":-0.33},{"s":"TBSB","b":"B7","x":2.08,"y":-0.33},{"s":"TBSB","b":"B7","x":2.19,"y":-0.2},{"s":"TBSB","b":"B7","x":2.31,"y":0.08},{"s":"TBSB","b":"B7","x":2.45,"y":0.37},{"s":"TBSB","b":"B7","x":2.54,"y":0.56},{"s":"TBSB","b":"B7","x":2.71,"y":0.9},{"s":"TBSB","b":"B7","x":2.8,"y":1.04},{"s":"TBSB","b":"B7","x":2.92,"y":1.2},{"s":"TBSB","b":"B7","x":3.08,"y":1.44},{"s":"TBSB","b":"B7","x":3.22,"y":1.75},{"s":"TBSB","b":"B7","x":3.34,"y":1.97},{"s":"TBSB","b":"B7","x":3.414,"y":2.08},
{"s":"TBSB","b":"B8","x":2,"y":-0.18},{"s":"TBSB","b":"B8","x":2.1,"y":-0.18},{"s":"TBSB","b":"B8","x":2.33,"y":-0.2},{"s":"TBSB","b":"B8","x":2.57,"y":-0.22},{"s":"TBSB","b":"B8","x":2.75,"y":-0.25},{"s":"TBSB","b":"B8","x":2.92,"y":-0.19},{"s":"TBSB","b":"B8","x":3.04,"y":-0.09},{"s":"TBSB","b":"B8","x":3.18,"y":0.03},{"s":"TBSB","b":"B8","x":3.29,"y":0.1},{"s":"TBSB","b":"B8","x":3.414,"y":0.15},
{"s":"TBSB","b":"B9","x":0,"y":0.1},{"s":"TBSB","b":"B9","x":0.07,"y":0.06},{"s":"TBSB","b":"B9","x":0.14,"y":-0.03},{"s":"TBSB","b":"B9","x":0.23,"y":-0.23},{"s":"TBSB","b":"B9","x":0.3,"y":-0.4},{"s":"TBSB","b":"B9","x":0.4,"y":-0.65},{"s":"TBSB","b":"B9","x":0.51,"y":-0.91},{"s":"TBSB","b":"B9","x":0.63,"y":-1.15},{"s":"TBSB","b":"B9","x":0.75,"y":-1.32},{"s":"TBSB","b":"B9","x":0.86,"y":-1.43},{"s":"TBSB","b":"B9","x":0.98,"y":-1.49},{"s":"TBSB","b":"B9","x":1,"y":-1.5},{"s":"TBSB","b":"B9","x":1.12,"y":-1.48},{"s":"TBSB","b":"B9","x":1.24,"y":-1.46},{"s":"TBSB","b":"B9","x":1.35,"y":-1.45},{"s":"TBSB","b":"B9","x":1.47,"y":-1.48},{"s":"TBSB","b":"B9","x":1.59,"y":-1.56},{"s":"TBSB","b":"B9","x":1.7,"y":-1.62},{"s":"TBSB","b":"B9","x":1.82,"y":-1.7},{"s":"TBSB","b":"B9","x":1.91,"y":-1.76},{"s":"TBSB","b":"B9","x":2,"y":-1.79},{"s":"TBSB","b":"B9","x":2.1,"y":-1.75},{"s":"TBSB","b":"B9","x":2.17,"y":-1.71},{"s":"TBSB","b":"B9","x":2.33,"y":-1.66},{"s":"TBSB","b":"B9","x":2.45,"y":-1.6},{"s":"TBSB","b":"B9","x":2.57,"y":-1.5},{"s":"TBSB","b":"B9","x":2.61,"y":-1.43},{"s":"TBSB","b":"B9","x":2.73,"y":-1.22},{"s":"TBSB","b":"B9","x":2.85,"y":-1.0},{"s":"TBSB","b":"B9","x":2.96,"y":-0.8},{"s":"TBSB","b":"B9","x":3.03,"y":-0.66},{"s":"TBSB","b":"B9","x":3.15,"y":-0.33},{"s":"TBSB","b":"B9","x":3.27,"y":-0.08},{"s":"TBSB","b":"B9","x":3.36,"y":0.07},{"s":"TBSB","b":"B9","x":3.414,"y":0.11},
{"s":"TBSB","b":"B10","x":0,"y":0.1},{"s":"TBSB","b":"B10","x":0.12,"y":0.04},{"s":"TBSB","b":"B10","x":0.23,"y":-0.04},{"s":"TBSB","b":"B10","x":0.35,"y":-0.15},{"s":"TBSB","b":"B10","x":0.49,"y":-0.29},{"s":"TBSB","b":"B10","x":0.61,"y":-0.38},{"s":"TBSB","b":"B10","x":0.72,"y":-0.45},{"s":"TBSB","b":"B10","x":0.84,"y":-0.52},{"s":"TBSB","b":"B10","x":0.95,"y":-0.57},{"s":"TBSB","b":"B10","x":1,"y":-0.59},
{"s":"TBSB","b":"B11","x":0,"y":-0.66},{"s":"TBSB","b":"B11","x":0.12,"y":-0.65},{"s":"TBSB","b":"B11","x":0.23,"y":-0.63},{"s":"TBSB","b":"B11","x":0.35,"y":-0.6},{"s":"TBSB","b":"B11","x":0.47,"y":-0.59},{"s":"TBSB","b":"B11","x":0.61,"y":-0.57},{"s":"TBSB","b":"B11","x":0.7,"y":-0.56},{"s":"TBSB","b":"B11","x":0.84,"y":-0.58},{"s":"TBSB","b":"B11","x":1,"y":-0.6},
{"s":"TBSB","b":"B12","x":0,"y":-0.71},{"s":"TBSB","b":"B12","x":0.12,"y":-0.7},{"s":"TBSB","b":"B12","x":0.23,"y":-0.68},{"s":"TBSB","b":"B12","x":0.47,"y":-0.67},{"s":"TBSB","b":"B12","x":0.7,"y":-0.66},{"s":"TBSB","b":"B12","x":0.84,"y":-0.67},{"s":"TBSB","b":"B12","x":1,"y":-0.69},{"s":"TBSB","b":"B12","x":1.12,"y":-0.71},{"s":"TBSB","b":"B12","x":1.24,"y":-0.76},{"s":"TBSB","b":"B12","x":1.3,"y":-0.85},{"s":"TBSB","b":"B12","x":1.35,"y":-0.95},{"s":"TBSB","b":"B12","x":1.4,"y":-1.08},{"s":"TBSB","b":"B12","x":1.47,"y":-1.24},{"s":"TBSB","b":"B12","x":1.56,"y":-1.39},{"s":"TBSB","b":"B12","x":1.66,"y":-1.52},{"s":"TBSB","b":"B12","x":1.74,"y":-1.53},{"s":"TBSB","b":"B12","x":1.82,"y":-1.49},{"s":"TBSB","b":"B12","x":1.91,"y":-1.46},{"s":"TBSB","b":"B12","x":2,"y":-1.46},{"s":"TBSB","b":"B12","x":2.17,"y":-1.46},{"s":"TBSB","b":"B12","x":2.33,"y":-1.43},{"s":"TBSB","b":"B12","x":2.45,"y":-1.31},{"s":"TBSB","b":"B12","x":2.52,"y":-1.19},{"s":"TBSB","b":"B12","x":2.68,"y":-0.98},{"s":"TBSB","b":"B12","x":2.85,"y":-0.77},{"s":"TBSB","b":"B12","x":2.96,"y":-0.69},{"s":"TBSB","b":"B12","x":3.08,"y":-0.67},{"s":"TBSB","b":"B12","x":3.414,"y":-0.67},
{"s":"TBSB","b":"B13","x":2,"y":-1.79},{"s":"TBSB","b":"B13","x":2.1,"y":-1.73},{"s":"TBSB","b":"B13","x":2.24,"y":-1.58},{"s":"TBSB","b":"B13","x":2.38,"y":-1.42},{"s":"TBSB","b":"B13","x":2.61,"y":-1.16},{"s":"TBSB","b":"B13","x":2.75,"y":-0.94},{"s":"TBSB","b":"B13","x":2.85,"y":-0.82},{"s":"TBSB","b":"B13","x":2.99,"y":-0.73},{"s":"TBSB","b":"B13","x":3.414,"y":-0.72},
{"s":"TBSB","b":"B14","x":0,"y":-2.42},{"s":"TBSB","b":"B14","x":0.1,"y":-2.4},{"s":"TBSB","b":"B14","x":0.2,"y":-2.36},{"s":"TBSB","b":"B14","x":0.3,"y":-2.3},{"s":"TBSB","b":"B14","x":0.42,"y":-2.22},{"s":"TBSB","b":"B14","x":0.54,"y":-2.13},{"s":"TBSB","b":"B14","x":0.66,"y":-2.0},{"s":"TBSB","b":"B14","x":0.77,"y":-1.86},{"s":"TBSB","b":"B14","x":0.86,"y":-1.71},{"s":"TBSB","b":"B14","x":0.93,"y":-1.6},{"s":"TBSB","b":"B14","x":1,"y":-1.5},
{"s":"TBSB","b":"B15","x":2,"y":-1.46},{"s":"TBSB","b":"B15","x":2.1,"y":-1.47},{"s":"TBSB","b":"B15","x":2.22,"y":-1.49},{"s":"TBSB","b":"B15","x":2.33,"y":-1.52},{"s":"TBSB","b":"B15","x":2.45,"y":-1.58},{"s":"TBSB","b":"B15","x":2.57,"y":-1.66},{"s":"TBSB","b":"B15","x":2.8,"y":-1.87},{"s":"TBSB","b":"B15","x":3.03,"y":-2.16},{"s":"TBSB","b":"B15","x":3.27,"y":-2.38},{"s":"TBSB","b":"B15","x":3.414,"y":-2.42}
]},
"layer":[
{"mark":{"type":"line","strokeWidth":1.2,"interpolate":"monotone","clip":true},
"encoding":{
"x":{"field":"x","type":"quantitative","scale":{"domain":[0,3.4142],"nice":false,"zero":false},
"axis":{"orient":"bottom","title":null,"values":[0,1,2,3.4142],"labelExpr":"datum.value < 0.5 ? 'Γ' : datum.value < 1.5 ? 'X' : datum.value < 2.5 ? 'M' : 'Γ'","labelPadding":4,"labelFontSize":11}},
"y":{"field":"y","type":"quantitative","scale":{"domain":[-2.5,2.5],"nice":false},
"axis":{"orient":"left","title":"E-EF (eV)","values":[-2,-1,0,1,2],"labelExpr":"replace(datum.label, '−', '-')","labelPadding":6,"titlePadding":6}},
"color":{"field":"s","type":"nominal","scale":{"domain":["LDA","TBSA","TBSB"],"range":["#000000","#ff0000","#0000ff"]},
"legend":{"title":null,"orient":"none","legendX":310,"legendY":20,"symbolType":"M6,0H12","symbolSize":100,"symbolStrokeWidth":1.3,"symbolOffset":0,"labelFontSize":10,"labelColor":"black","labelAlign":"right","labelOffset":17,"fillColor":"white","strokeColor":"#333333","padding":3,"rowPadding":-2}},
"strokeDash":{"field":"s","type":"nominal","scale":{"domain":["LDA","TBSA","TBSB"],"range":[[1,0],[4,2],[1.5,2]]},"legend":null},
"detail":{"field":"b","type":"nominal"}}},
{"mark":{"type":"line","opacity":0},
"encoding":{
"x":{"field":"x","type":"quantitative","axis":{"orient":"top","title":null,"values":[1,2],"labels":false}},
"y":{"field":"y","type":"quantitative","axis":{"orient":"right","title":null,"values":[-2,-1,0,1,2],"labels":false}},
"detail":{"field":"b","type":"nominal"}}}
],
"resolve":{"axis":{"x":"independent","y":"independent"}}
}
